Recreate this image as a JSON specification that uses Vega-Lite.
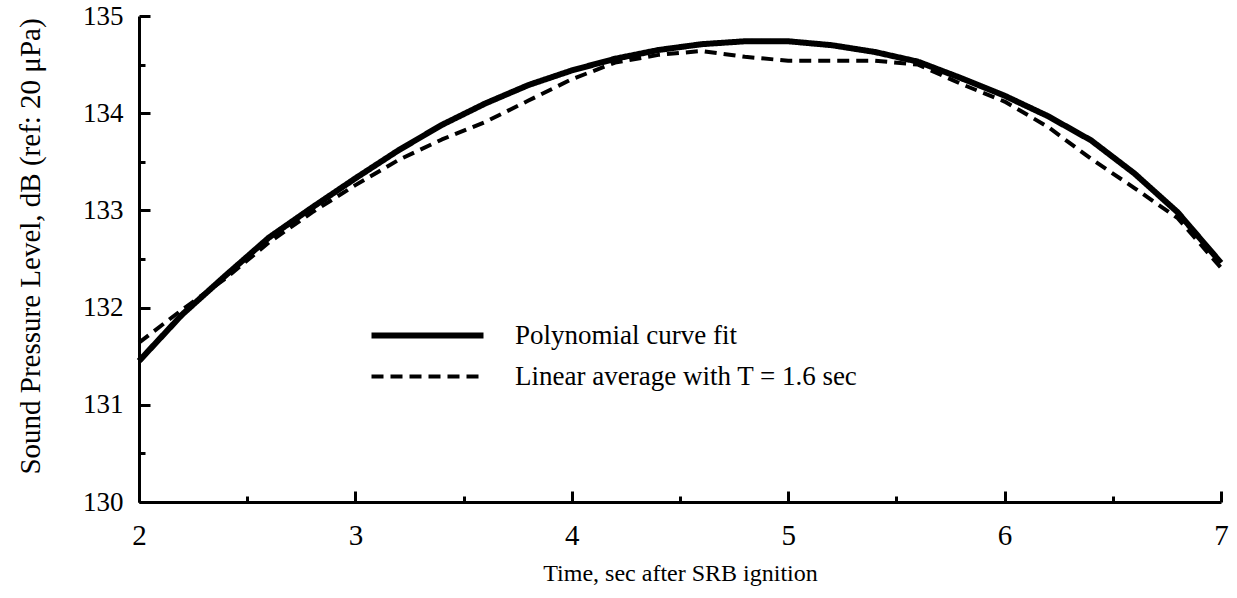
{
  "$schema": "https://vega.github.io/schema/vega-lite/v6.json",
  "width": 1082,
  "height": 486,
  "autosize": {"type": "none"},
  "padding": {"left": 139, "top": 16, "right": 16, "bottom": 96},
  "background": "white",
  "config": {
    "view": {"stroke": null},
    "font": "Liberation Serif",
    "axis": {
      "domainColor": "black",
      "domainWidth": 3,
      "tickColor": "black",
      "tickWidth": 3,
      "grid": false,
      "labelFont": "Liberation Serif",
      "labelFontSize": 26,
      "labelColor": "black",
      "titleFont": "Liberation Serif",
      "titleFontSize": 24,
      "titleFontWeight": "normal",
      "titleColor": "black"
    },
    "legend": {"labelFont": "Liberation Serif", "titleFont": "Liberation Serif"}
  },
  "data": {
    "values": [
      {"t": 2.0, "spl": 131.45, "series": "Polynomial curve fit"},
      {"t": 2.2, "spl": 131.93, "series": "Polynomial curve fit"},
      {"t": 2.4, "spl": 132.33, "series": "Polynomial curve fit"},
      {"t": 2.6, "spl": 132.72, "series": "Polynomial curve fit"},
      {"t": 2.8, "spl": 133.03, "series": "Polynomial curve fit"},
      {"t": 3.0, "spl": 133.33, "series": "Polynomial curve fit"},
      {"t": 3.2, "spl": 133.62, "series": "Polynomial curve fit"},
      {"t": 3.4, "spl": 133.88, "series": "Polynomial curve fit"},
      {"t": 3.6, "spl": 134.1, "series": "Polynomial curve fit"},
      {"t": 3.8, "spl": 134.29, "series": "Polynomial curve fit"},
      {"t": 4.0, "spl": 134.44, "series": "Polynomial curve fit"},
      {"t": 4.2, "spl": 134.56, "series": "Polynomial curve fit"},
      {"t": 4.4, "spl": 134.65, "series": "Polynomial curve fit"},
      {"t": 4.6, "spl": 134.71, "series": "Polynomial curve fit"},
      {"t": 4.8, "spl": 134.74, "series": "Polynomial curve fit"},
      {"t": 5.0, "spl": 134.74, "series": "Polynomial curve fit"},
      {"t": 5.2, "spl": 134.7, "series": "Polynomial curve fit"},
      {"t": 5.4, "spl": 134.63, "series": "Polynomial curve fit"},
      {"t": 5.6, "spl": 134.53, "series": "Polynomial curve fit"},
      {"t": 5.8, "spl": 134.36, "series": "Polynomial curve fit"},
      {"t": 6.0, "spl": 134.18, "series": "Polynomial curve fit"},
      {"t": 6.2, "spl": 133.97, "series": "Polynomial curve fit"},
      {"t": 6.4, "spl": 133.72, "series": "Polynomial curve fit"},
      {"t": 6.6, "spl": 133.38, "series": "Polynomial curve fit"},
      {"t": 6.8, "spl": 132.98, "series": "Polynomial curve fit"},
      {"t": 7.0, "spl": 132.46, "series": "Polynomial curve fit"},
      {"t": 2.0, "spl": 131.64, "series": "Linear average with T = 1.6 sec"},
      {"t": 2.2, "spl": 131.98, "series": "Linear average with T = 1.6 sec"},
      {"t": 2.4, "spl": 132.3, "series": "Linear average with T = 1.6 sec"},
      {"t": 2.6, "spl": 132.67, "series": "Linear average with T = 1.6 sec"},
      {"t": 2.8, "spl": 132.98, "series": "Linear average with T = 1.6 sec"},
      {"t": 3.0, "spl": 133.26, "series": "Linear average with T = 1.6 sec"},
      {"t": 3.2, "spl": 133.52, "series": "Linear average with T = 1.6 sec"},
      {"t": 3.4, "spl": 133.73, "series": "Linear average with T = 1.6 sec"},
      {"t": 3.6, "spl": 133.91, "series": "Linear average with T = 1.6 sec"},
      {"t": 3.8, "spl": 134.13, "series": "Linear average with T = 1.6 sec"},
      {"t": 4.0, "spl": 134.35, "series": "Linear average with T = 1.6 sec"},
      {"t": 4.2, "spl": 134.52, "series": "Linear average with T = 1.6 sec"},
      {"t": 4.4, "spl": 134.6, "series": "Linear average with T = 1.6 sec"},
      {"t": 4.6, "spl": 134.64, "series": "Linear average with T = 1.6 sec"},
      {"t": 4.8, "spl": 134.58, "series": "Linear average with T = 1.6 sec"},
      {"t": 5.0, "spl": 134.54, "series": "Linear average with T = 1.6 sec"},
      {"t": 5.2, "spl": 134.54, "series": "Linear average with T = 1.6 sec"},
      {"t": 5.4, "spl": 134.54, "series": "Linear average with T = 1.6 sec"},
      {"t": 5.6, "spl": 134.5, "series": "Linear average with T = 1.6 sec"},
      {"t": 5.8, "spl": 134.3, "series": "Linear average with T = 1.6 sec"},
      {"t": 6.0, "spl": 134.12, "series": "Linear average with T = 1.6 sec"},
      {"t": 6.2, "spl": 133.86, "series": "Linear average with T = 1.6 sec"},
      {"t": 6.4, "spl": 133.53, "series": "Linear average with T = 1.6 sec"},
      {"t": 6.6, "spl": 133.23, "series": "Linear average with T = 1.6 sec"},
      {"t": 6.8, "spl": 132.92, "series": "Linear average with T = 1.6 sec"},
      {"t": 7.0, "spl": 132.41, "series": "Linear average with T = 1.6 sec"}
    ]
  },
  "resolve": {"axis": {"x": "independent", "y": "independent"}},
  "layer": [
    {
      "mark": {"type": "line", "color": "black", "strokeCap": "butt", "strokeJoin": "round", "clip": false},
      "encoding": {
        "x": {
          "field": "t",
          "type": "quantitative",
          "scale": {"domain": [2, 7], "nice": false, "zero": false},
          "axis": {
            "orient": "bottom",
            "title": "Time, sec after SRB ignition",
            "values": [2, 3, 4, 5, 6, 7],
            "format": "d",
            "tickSize": 0,
            "encoding": {"ticks": {"y2": {"value": -11}}},
            "labelFontSize": 29,
            "labelPadding": 19,
            "labelBaseline": "top",
            "labelFlush": false,
            "labelOverlap": false,
            "titleY": 78,
            "titleBaseline": "alphabetic"
          }
        },
        "y": {
          "field": "spl",
          "type": "quantitative",
          "scale": {"domain": [130, 135], "nice": false, "zero": false},
          "axis": {
            "orient": "left",
            "title": "Sound Pressure Level, dB (ref: 20 μPa)",
            "values": [130, 131, 132, 133, 134, 135],
            "format": "d",
            "tickSize": 0,
            "encoding": {"ticks": {"x2": {"value": 11}}},
            "labelFontSize": 27,
            "labelPadding": 16,
            "labelFlush": false,
            "labelOverlap": false,
            "titleFontSize": 29,
            "titleX": -109,
            "titleY": 230,
            "titleAngle": -90,
            "titleBaseline": "middle",
            "titleAlign": "center"
          }
        },
        "strokeDash": {
          "field": "series",
          "type": "nominal",
          "scale": {
            "domain": ["Polynomial curve fit", "Linear average with T = 1.6 sec"],
            "range": [[1, 0], [12, 7]]
          },
          "legend": {
            "title": null,
            "orient": "none",
            "legendX": 275,
            "legendY": 306,
            "padding": 0,
            "symbolType": "M-5.6,0H5.6",
            "symbolSize": 400,
            "symbolStrokeColor": "black",
            "labelFont": "Liberation Serif",
            "labelFontSize": 27,
            "labelColor": "black",
            "labelOffset": 74,
            "labelLimit": 600,
            "rowPadding": 13
          }
        },
        "strokeWidth": {
          "field": "series",
          "type": "nominal",
          "scale": {
            "domain": ["Polynomial curve fit", "Linear average with T = 1.6 sec"],
            "range": [6, 4]
          },
          "legend": null
        }
      }
    },
    {
      "mark": {"type": "line", "strokeOpacity": 0, "clip": false},
      "encoding": {
        "detail": {"field": "series", "type": "nominal"},
        "x": {
          "field": "t",
          "type": "quantitative",
          "scale": {"domain": [2, 7], "nice": false, "zero": false},
          "axis": {
            "orient": "bottom",
            "title": null,
            "values": [2.5, 3.5, 4.5, 5.5, 6.5],
            "labels": false,
            "domain": false,
            "tickSize": 0,
            "encoding": {"ticks": {"y2": {"value": -6}}}
          }
        },
        "y": {
          "field": "spl",
          "type": "quantitative",
          "scale": {"domain": [130, 135], "nice": false, "zero": false},
          "axis": {
            "orient": "left",
            "title": null,
            "values": [130.5, 131.5, 132.5, 133.5, 134.5],
            "labels": false,
            "domain": false,
            "tickSize": 0,
            "encoding": {"ticks": {"x2": {"value": 6}}}
          }
        }
      }
    }
  ]
}
